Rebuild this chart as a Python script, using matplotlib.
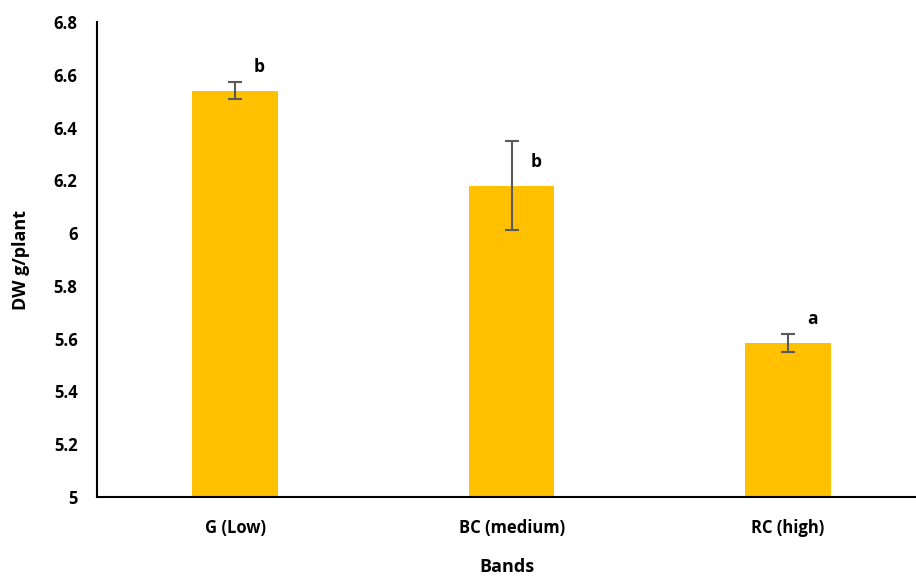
import matplotlib
matplotlib.use("Agg")
import matplotlib.pyplot as plt

categories = ["G (Low)", "BC (medium)", "RC (high)"]
values = [6.54, 6.18, 5.585]
errors = [0.032, 0.17, 0.034]
letters = ["b", "b", "a"]
yticks = [5, 5.2, 5.4, 5.6, 5.8, 6, 6.2, 6.4, 6.6, 6.8]
ytick_labels = ["5", "5.2", "5.4", "5.6", "5.8", "6", "6.2", "6.4", "6.6", "6.8"]

plt.rcParams['font.family'] = ['Open Sans', 'DejaVu Sans']

fig = plt.figure(figsize=(9.16, 5.79), dpi=100)
ax = fig.add_axes([0.1059, 0.1416, 0.8941, 0.8204])

x = list(range(len(categories)))
ax.bar(x, values, width=0.31, color="#FFC000", zorder=2)
ax.errorbar(x, values, yerr=errors, fmt="none", ecolor="#595959",
            elinewidth=1.5, capsize=5, capthick=1.5, zorder=3)
for xi, v, l in zip(x, values, letters):
    ax.annotate(l, xy=(xi, v), xytext=(17.5, 17), textcoords="offset points",
                ha="center", va="center", fontsize=12.5, fontweight="bold")

ax.set_xlim(-0.5, 2.463)
ax.set_ylim(5, 6.8)
ax.set_yticks(yticks)
ax.set_yticklabels(ytick_labels, fontsize=12, fontweight="bold")
ax.set_xticks(x)
ax.set_xticklabels(categories, fontsize=12, fontweight="bold")
ax.tick_params(axis="x", length=0, pad=16)
ax.tick_params(axis="y", length=0, pad=14)
for s in ["top", "right"]:
    ax.spines[s].set_visible(False)
for s in ["left", "bottom"]:
    ax.spines[s].set_linewidth(1.5)
    ax.spines[s].set_color("black")
ax.set_ylabel("DW g/plant", fontsize=13, fontweight="bold", labelpad=17)
ax.set_xlabel("Bands", fontsize=13, fontweight="bold", labelpad=15)

fig.savefig("out.png", dpi=100)
